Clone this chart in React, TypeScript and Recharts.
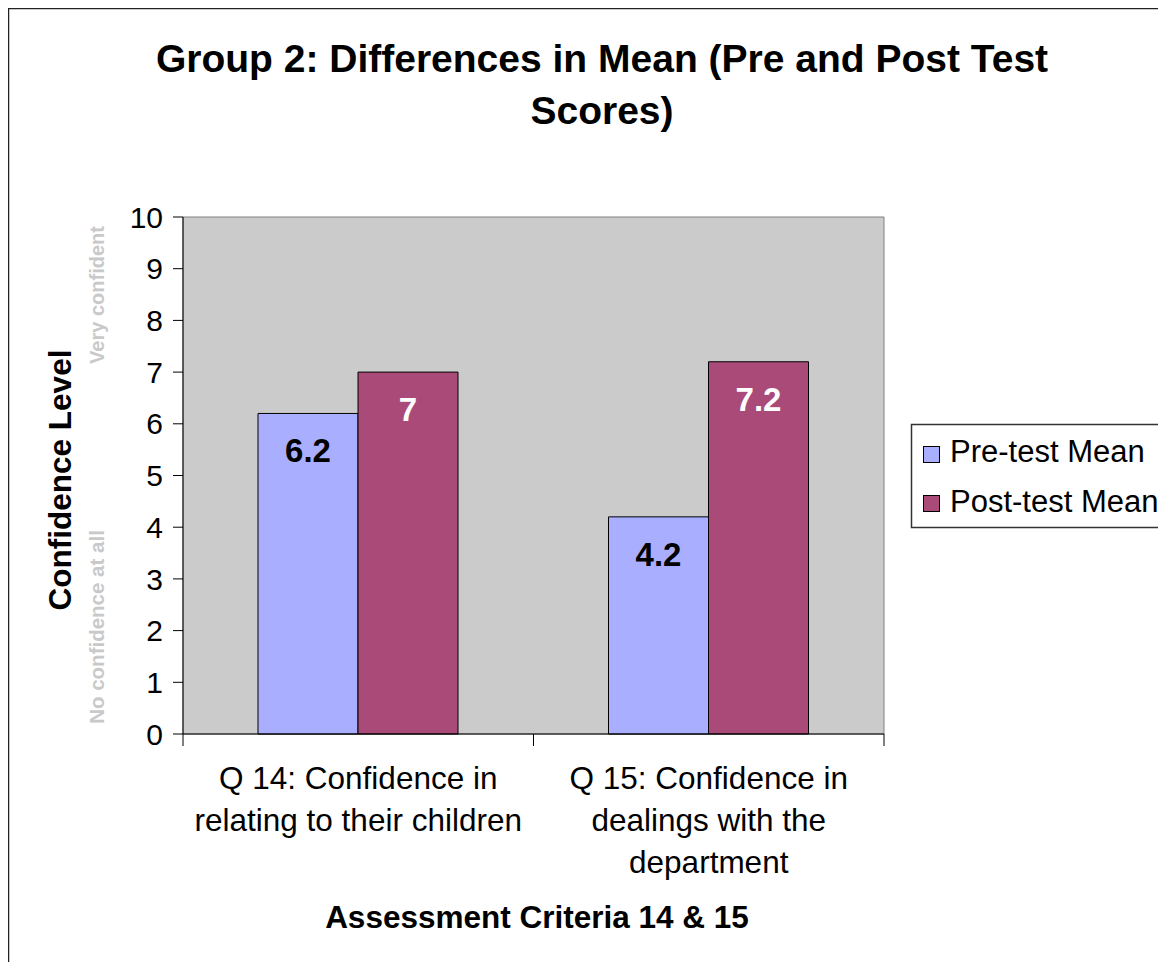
import { Bar, BarChart, CartesianGrid, LabelList, ReferenceArea, XAxis, YAxis } from 'recharts';

const categories = ['Q 14: Confidence in relating to their children', 'Q 15: Confidence in dealings with the department'];
const categoryLines = [
  ['Q 14: Confidence in', 'relating to their children'],
  ['Q 15: Confidence in', 'dealings with the', 'department'],
];
const preTestMean = [6.2, 4.2];
const postTestMean = [7, 7.2];
const yTicks = [0, 1, 2, 3, 4, 5, 6, 7, 8, 9, 10];

const seriesNames = ['Pre-test Mean', 'Post-test Mean'];
const seriesColors = ['#AAAEFF', '#AA4A78'];
const labelColors = ['#000000', '#FFFFFF'];

const data = categories.map((name, i) => ({
  name,
  pre: preTestMean[i],
  post: postTestMean[i],
}));

const FONT = '"Liberation Sans", Arial, Helvetica, sans-serif';
const WIDTH = 1158;
const HEIGHT = 954;
const BAND = 350.5;

function XTick(props: any) {
  const { x, y, payload, index } = props;
  const lines = categoryLines[index] ?? [payload.value];
  const half = BAND / 2;
  return (
    <g>
      <line x1={x - half} x2={x - half} y1={y - 8} y2={y + 4} stroke="#000" />
      {index === categories.length - 1 && (
        <line x1={x + half} x2={x + half} y1={y - 8} y2={y + 4} stroke="#000" />
      )}
      {lines.map((line, i) => (
        <text
          key={line}
          x={x}
          y={y + 46.5 + i * 42}
          textAnchor="middle"
          fontSize={31.5}
          fontFamily={FONT}
          fill="#000"
        >
          {line}
        </text>
      ))}
    </g>
  );
}

function makeValueLabel(color: string) {
  return function ValueLabel(props: any) {
    const { x, y, width, value } = props;
    return (
      <text
        x={x + width / 2}
        y={y + 49}
        textAnchor="middle"
        fontSize={33}
        fontWeight="bold"
        fontFamily={FONT}
        fill={color}
      >
        {value}
      </text>
    );
  };
}

export default function App() {
  return (
    <div style={{ width: WIDTH, height: HEIGHT, fontFamily: FONT, overflow: 'hidden' }}>
      <BarChart
        width={WIDTH}
        height={HEIGHT}
        data={data}
        margin={{ top: 209, right: 282, bottom: 88, left: 115 }}
        barCategoryGap="21.4%"
        barGap={0}
      >
        <path d={`M${WIDTH} 0.5 H0.5 V${HEIGHT}`} fill="none" stroke="#222" strokeWidth={1.5} />
        <CartesianGrid horizontal={false} vertical={false} fill="#CBCBCB" />
        <ReferenceArea y1={0} y2={10} fill="#CBCBCB" fillOpacity={1} stroke="#808080" strokeWidth={1} />
        <XAxis
          dataKey="name"
          height={140}
          axisLine={{ stroke: '#000' }}
          tickLine={false}
          tick={<XTick />}
          interval={0}
        />
        <YAxis
          width={60}
          domain={[0, 10]}
          ticks={yTicks}
          interval={0}
          axisLine={{ stroke: '#000' }}
          tickLine={{ stroke: '#000' }}
          tickSize={10}
          tickMargin={10}
          tick={{ fontSize: 30, fill: '#000', fontFamily: FONT }}
        />
        <Bar dataKey="pre" name={seriesNames[0]} fill={seriesColors[0]} stroke="#000" strokeWidth={1} isAnimationActive={false}>
          <LabelList dataKey="pre" content={makeValueLabel(labelColors[0])} />
        </Bar>
        <Bar dataKey="post" name={seriesNames[1]} fill={seriesColors[1]} stroke="#000" strokeWidth={1} isAnimationActive={false}>
          <LabelList dataKey="post" content={makeValueLabel(labelColors[1])} />
        </Bar>

        <text x={594} y={64} textAnchor="middle" fontSize={39} fontWeight="bold" fontFamily={FONT} fill="#000">
          Group 2: Differences in Mean (Pre and Post Test
        </text>
        <text x={594} y={116} textAnchor="middle" fontSize={39} fontWeight="bold" fontFamily={FONT} fill="#000">
          Scores)
        </text>

        <text
          transform="translate(63 472) rotate(-90)"
          textAnchor="middle"
          fontSize={31.5}
          fontWeight="bold"
          fontFamily={FONT}
          fill="#000"
        >
          Confidence Level
        </text>
        <text
          transform="translate(96 287) rotate(-90)"
          textAnchor="middle"
          fontSize={20}
          fontWeight="bold"
          fontFamily={FONT}
          fill="#C9C9C9"
        >
          Very confident
        </text>
        <text
          transform="translate(96 619) rotate(-90)"
          textAnchor="middle"
          fontSize={20.5}
          fontWeight="bold"
          fontFamily={FONT}
          fill="#C9C9C9"
        >
          No confidence at all
        </text>

        <text x={529} y={920} textAnchor="middle" fontSize={31.5} fontWeight="bold" fontFamily={FONT} fill="#000">
          Assessment Criteria 14 &amp; 15
        </text>

        <g>
          <rect x={903.5} y={416.5} width={270} height={103} fill="#fff" stroke="#333" strokeWidth={1.5} />
          {seriesNames.map((name, i) => (
            <g key={name}>
              <rect x={915.5} y={438.5 + i * 49} width={16} height={16} fill={seriesColors[i]} stroke="#000" />
              <text x={942} y={454 + i * 50} fontSize={31} fontFamily={FONT} fill="#000">
                {name}
              </text>
            </g>
          ))}
        </g>
      </BarChart>
    </div>
  );
}
